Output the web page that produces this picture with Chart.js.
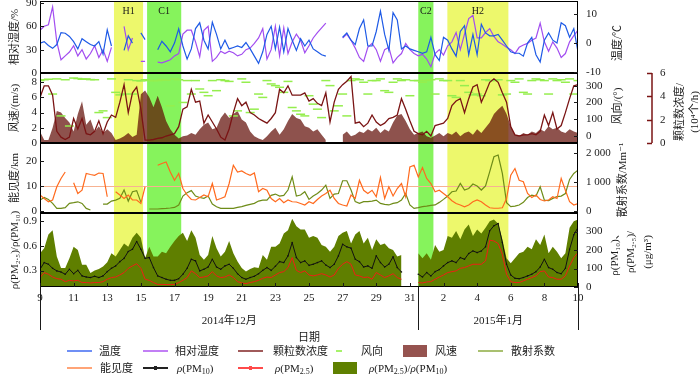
<!DOCTYPE html>
<html>
<head>
<meta charset="utf-8">
<script src="https://cdn.jsdelivr.net/npm/chart.js@4.4.0/dist/chart.umd.min.js"></script>
<style>
body { margin: 0; background: #fff; }
#wrap { position: relative; width: 700px; height: 374px; overflow: hidden; font-family: 'Liberation Serif', 'Noto Sans CJK SC', serif; color: #1a1a1a; }
#wrap canvas { position: absolute; left: 0; top: 0; }
.lg { position: absolute; font-size: 11px; line-height: 12px; white-space: nowrap; z-index: 5; }
.lg sub { font-size: 8px; vertical-align: -2px; line-height: 0; }
.sw { position: absolute; z-index: 5; }
</style>
</head>
<body>
<div id="wrap">
  <canvas id="c1" width="700" height="374"></canvas>
  <canvas id="c2" width="700" height="374"></canvas>
  <canvas id="c3" width="700" height="374"></canvas>
  <canvas id="c4" width="700" height="374"></canvas>
</div>
<script>
// 6-hourly readings, 9 Dec 2014 00:00 .. 10 Jan 2015 00:00
var temperature = [0, 0.5, -0.8, -1.8, -0.5, 3.6, 3.4, 2.3,
  0.5, -2, 1.5, 0.5, -0.5, -1, 0.5, -3.8,
  4.6, -1, null, null, -2.5, 2.5, 0, null,
  3.5, 1.2, null, null, -2.3, 0.6, -1, -3,
  0, 4.9, -1, -5.5, -2, 5, 7, 1,
  -2, 7.2, 3, -2, 1, -2, -1.5, -1,
  -1.5, 0.2, -2, -4.5, -7, -3, 3, 5.8,
  -2, 5.5, -3, 5, 1, -2.5, 1.5, -1,
  1, -2, -3, -4, -4.5, null, null, null,
  2, 3.5, 1, -0.5, 5, 8, -1, -1,
  4, 11, 3, -2.5, 10.5, 8, -2, -1,
  -2, -2.5, -3, -3.5, -3, 2, -4, -6,
  2, 1, -2, -4.5, 4, 6, -4, 3,
  -4, 6.5, 3.5, 2.5, 2.5, 3, 1, -1,
  -3, -3.5, -3.5, -4.5, 0, 2, -4, -6.5,
  1, 3.5, 1, 0, 7, 6, 2, 5,
  -3];
var humidity = [55, 60, 62, 85, 40, 17, 22, 27,
  35, 22, 30, 18, 25, 35, 20, 30,
  15, 33, null, null, 60, 30, 45, null,
  15, 15, null, null, 14, 13, 15, 17,
  22, 25, 50, 55, 55, 40, 21, 55,
  60, 15, 20, 28, 25, 28, 26, 22,
  24, 30, 32, 38, 45, 57, 18, 30,
  60, 22, 58, 25, 40, 50, 42, 26,
  35, 45, 52, 58, 64, null, null, null,
  45, 50, 42, 32, 20, 15, 33, 38,
  30, 15, 30, 33, 13, 20, 25, 38,
  30, 25, 22, 24, 18, 8, 25, 30,
  23, 35, 40, 52, 30, 50, 70, 74,
  45, 45, 52, 57, 47, 40, 37, 33,
  30, 25, 33, 36, 38, 42, 45, 64,
  40, 28, 40, 32, 20, 25, 40, 48,
  55];
var windSpeed = [1.5, 0.4, 0.4, 2, 4.2, 4, 3.3, 2.7,
  1.5, 3.8, 5.5, 2.4, 3.1, 1.5, 2.2, 1.3,
  1.8, 1.3, 0.4, 0.6, 0.9, 1.3, 0.8, 1.1,
  6.4, 6.9, 6, 4.7, 6.2, 4.7, 2.9, 1.8,
  1.1, 0.6, 0.9, 1, 1.3, 1.1, 1.8, 2.4,
  2.7, 1.8, 2, 3.3, 4, 3.3, 3.8, 4.2,
  3.1, 2.7, 1.5, 0.9, 0.6, 0.4, 0.9, 1.5,
  2, 1.1, 1.8, 2.9, 3.8, 3.3, 3.1, 2.2,
  2, 1.5, 1.8, 1.1, 0.4, null, null, null,
  1.1, 1.5, 0.9, 1.1, 1.5, 1.3, 1.8, 1.5,
  2, 1.3, 1.8, 1.5, 2.7, 3.6, 3.8, 2.9,
  1.8, 1.1, 1.3, 1.5, 0.9, 0.7, 1, 1.3,
  0.9, 1.3, 1.1, 1.5, 0.9, 1.3, 1.5, 1.1,
  1.8, 1.3, 2, 2.7, 3.8, 4.4, 4.9, 3.8,
  2.2, 1.1, 0.9, 1.3, 1.1, 1.5, 1.3, 1.8,
  1.5, 2.2, 1.8, 2, 1.5, 1.3, 1.8, 1.5,
  1.3];
var particleConc = [3.9, 4.9, 4.9, 4.1, 1, 0.5, 0.3, 0.5,
  2.1, 1.2, 2.1, 0.8, 0.7, 1, 1.9, 0.8,
  1.8, 2.4, 2.2, 3.5, 5, 2.6, 4.3, 4.8,
  2.9, 0.25, 0.25, 0.3, 0.4, 0.45, 0.6, 0.7,
  0.8, 1.4, 2.9, 3.1, 4.6, 3.5, 3.6, 1.7,
  2.4, 1.8, 1.2, 0.5, 0.25, 1.2, 2.6, 3.8,
  3.2, 3.5, 2.6, 2.4, 2.1, 1.9, 1.7, 2.1,
  2.6, 4.6, 4.3, 4.9, 4.1, 4.1, 4.1, 4.3,
  3.6, 3.8, 3.4, 3.2, 4.3, 1.8, 3.5, 4.6,
  5, 5.3, 5.7, 1.7, 1.8, 1.4, 1.7, 2.4,
  1.8, 1.5, 1.7, 2.1, 2.2, 2.4, 3.8, 2.9,
  1.9, 1, 0.8, 0.7, 1, 0.6, 1.5, 1.6,
  1.7, 2.1, 3.2, 3.6, 3.8, 2.6, 3.8, 4.8,
  5, 3.5, 4.3, 5.2, 5.5, 5.2, 4.3, 3.5,
  1.4, 0.7, 0.6, 0.7, 0.7, 0.8, 0.7, 1,
  2.4, 1.5, 2.6, 1.2, 1.5, 2.6, 3.8, 4.9,
  5];
var windDir = [330, 335, 338, 250, 340, 120, 335, 60,
  345, 342, 338, 340, 336, 335, 140, 150,
  110, 340, 260, 245, 250, 335, 250, 330,
  328, 335, 330, 330, 330, 336, 332, 180,
  340, 335, 200, 330, 250, 330, 280, 260,
  240, 330, 270, 335, 330, 325, 120, 150,
  340, 320, 140, 160, 250, 230, 330, 310,
  300, 290, 260, 325, 170, 150, 130, 120,
  240, 190, 160, 110, 330, 300, 150, 180,
  250, 120, 330, 340, 335, 320, 250, 330,
  330, 340, 270, 260, 320, 340, 330, 335,
  240, 330, 330, 320, 330, 335, 250, 340,
  330, 330, 240, 230, 330, 300, 260, 245,
  250, 240, 335, 330, 330, 335, 245, 250,
  330, 320, 340, 260, 250, 330, 340, 335,
  330, 250, 340, 330, 335, 320, 340, 250,
  330];
var visibility = [6.4, 5, 3.7, 4.4, 9.7, 13, 15.6, null,
  11.3, 7, 8.3, 15, 14.6, 14.3, 15.2, 15,
  5.7, null, 7.7, 6.4, 5, 6.4, 4.4, 4.4,
  3, 9.7, null, null, 18.3, 19, 19.6, 15.6,
  12.3, 15, 9, 6.4, 4.6, 4.4, 5.4, 6.4,
  5.7, 11, 4.4, 5, 5.7, 11, 18.3, 15.6,
  16, 15, 14.3, 15.2, 7.7, 9, 8.3, 5,
  3.7, 5, 3.3, 4.4, 3.7, 3.6, 3, 2.4,
  3.7, 3, 4.6, 6, 7, 8.3, 5, 3,
  2.4, 2, 6.4, 5, 12.3, 8.3, 7, 8.3,
  5.7, 13.4, 5, 9.7, 6, 9, 11, 5.7,
  17.6, 18.3, 13.6, 17.4, 13, 11, 7.7, 8.3,
  7, 5.7, 4.1, 3, 2.4, 1.7, 2.4, 3.7,
  4.4, 3.7, 2.4, 1.3, 1.1, 1.1, 1.3, 5,
  14.3, 17, 12.3, 11.7, 7, 5.4, 6.4, 4.6,
  4, 4.4, 5.7, 5, 13, 8.3, 3.7, 2.4,
  3];
var scattering = [370, 460, 390, 255, 80, 80, 105, 255,
  280, 310, 255, 80, 25, null, null, 230,
  230, 335, 370, 430, 720, 335, 660, 700,
  300, null, 60, 60, 60, 70, 80, 95,
  115, 200, 510, 625, 700, 510, 460, 430,
  510, 230, 140, 80, 80, 80, 80, 115,
  140, 185, 220, 255, 335, 370, 370, 535,
  580, 510, 535, 720, 1180, 510, 545, 660,
  395, 510, 600, 720, 890, 430, 580, 600,
  1045, 1045, 720, 315, 255, 315, 315, 335,
  370, 255, 220, 200, 255, 280, 370, 600,
  200, 80, 105, 140, 160, 185, 200, 290,
  395, 510, 660, 685, 950, 720, 775, 930,
  860, 720, 860, 1360, 1880, 1940, 1300, 280,
  140, 160, 200, 290, 460, 545, 510, 835,
  370, 350, 430, 490, 510, 600, 1090, 1300,
  1415];
var pmRatio = [0.51, 0.57, 0.74, 0.79, 0.47, 0.33, 0.33, 0.45,
  0.59, 0.55, 0.37, 0.37, 0.27, 0.30, 0.32, 0.35,
  0.40, 0.51, 0.47, 0.55, 0.63, 0.59, 0.70, 0.76,
  0.70, 0.45, 0.59, 0.47, 0.47, 0.53, 0.51, 0.59,
  0.66, 0.72, 0.76, 0.66, 0.79, 0.70, 0.49, 0.43,
  0.49, 0.72, 0.57, 0.47, 0.53, 0.66, 0.51, 0.41,
  0.33, 0.29, 0.32, 0.34, 0.33, 0.49, 0.43, 0.59,
  0.59, 0.63, 0.75, 0.79, 0.93, 0.84, 0.80, 0.80,
  0.70, 0.72, 0.70, 0.61, 0.59, 0.53, 0.59, 0.72,
  0.76, 0.78, 0.63, 0.74, 0.78, 0.63, 0.70, 0.55,
  0.68, 0.61, 0.63, 0.57, 0.55, 0.47, 0.49, null,
  null, null, 0.51, 0.45, 0.51, 0.43, 0.61, 0.53,
  0.55, 0.72, 0.70, 0.78, 0.68, 0.80, 0.86, 0.72,
  0.80, 0.75, 0.82, 0.90, 0.92, 0.87, 0.68, 0.45,
  0.39, 0.45, 0.51, 0.53, 0.59, 0.56, 0.68, 0.61,
  0.74, 0.51, 0.59, 0.53, 0.45, 0.51, 0.82, 0.90,
  0.92];
var pm10 = [96, 132, 123, 101, 87, 81, 69, 96,
  72, 90, 60, 54, 51, 58, 51, 60,
  83, 101, 114, 137, 155, 192, 204, 246,
  204, 155, 159, 105, 60, 51, 42, 36,
  36, 45, 69, 101, 150, 141, 87, 96,
  108, 150, 108, 96, 114, 123, 101, 72,
  51, 42, 51, 58, 72, 90, 105, 90,
  112, 137, 132, 168, 240, 159, 132, 141,
  117, 123, 132, 141, 119, 105, 123, 168,
  231, 217, 210, 150, 137, 108, 114, 101,
  168, 132, 108, 123, 163, 105, 81, null,
  null, null, 69, 54, 78, 60, 83, 94,
  114, 132, 141, 132, 159, 150, 181, 195,
  186, 195, 217, 304, 331, 343, 240, 123,
  65, 47, 45, 51, 60, 69, 83, 108,
  150, 105, 96, 78, 72, 101, 204, 282,
  322];
var pm25 = [51, 78, 69, 54, 45, 42, 29, 36,
  33, 36, 24, 24, 22, 24, 24, 29,
  42, 51, 54, 65, 78, 101, 114, 126,
  101, 42, 36, 24, 14, 14, 13, 13,
  14, 24, 36, 51, 87, 72, 51, 54,
  60, 83, 60, 51, 54, 65, 51, 29,
  22, 18, 24, 29, 36, 47, 54, 51,
  65, 78, 83, 105, 159, 90, 78, 87,
  65, 60, 65, 72, 65, 54, 65, 101,
  123, 137, 123, 65, 60, 51, 54, 42,
  78, 65, 51, 60, 72, 51, 42, null,
  null, null, 24, 22, 27, 29, 42, 54,
  65, 78, 83, 87, 101, 105, 114, 123,
  123, 123, 141, 253, 249, 235, 177, 69,
  29, 24, 24, 33, 42, 51, 60, 83,
  87, 54, 51, 42, 42, 60, 114, 159,
  186];

var dateTicks = [0, 2, 4, 6, 8, 10, 12, 14, 16, 18, 20, 22, 24, 26, 28, 30, 32];
var dateLabels = ['9', '11', '13', '15', '17', '19', '21', '23', '25', '27', '29', '31', '2', '4', '6', '8', '10'];
var months = [['2014年12月', 0, 22.5], ['2015年1月', 22.5, 32]];
// episodes: name, start day, end day, kind (H = haze, C = clean)
var episodes = [['H1', 4.4, 6.13, 'H'], ['C1', 6.37, 8.4, 'C'], ['C2', 22.5, 23.4, 'C'], ['H2', 24.23, 27.86, 'H']];
var visRef = 10;

var times = temperature.map(function (v, i) { return i * 0.25; });

var FONT = "'Liberation Serif', 'Noto Sans CJK SC', 'DejaVu Serif', serif";
var INK = '#1a1a1a';
var PNC_COLOR = '#7a1414';
var tickFont = { family: FONT, size: 11 };

function fixTicks(values) {
  return function (s) { s.ticks = values.map(function (v) { return { value: v }; }); };
}

function yAxis(pos, min, max, ticks, width, extra) {
  var ax = {
    position: pos, min: min, max: max,
    afterBuildTicks: fixTicks(ticks),
    afterFit: function (s) { s.width = width; s.paddingTop = 0; s.paddingBottom = 0; },
    grid: { display: false, drawTicks: false },
    border: { display: false },
    ticks: { font: tickFont, color: INK, padding: pos === 'left' ? 3 : 8 }
  };
  if (extra && extra.title) {
    ax.title = { display: true, text: extra.title, font: { family: FONT, size: 11 }, color: INK, padding: { top: 9, bottom: 0 } };
  }
  if (extra && extra.callback) ax.ticks.callback = extra.callback;
  if (extra && extra.weight !== undefined) ax.weight = extra.weight;
  return ax;
}

var hiddenX = { type: 'linear', min: 0, max: 32, display: false };

var bands = {
  id: 'bands',
  beforeDatasetsDraw: function (chart) {
    var ctx = chart.ctx, a = chart.chartArea, x = chart.scales.x;
    ctx.save();
    episodes.forEach(function (e) {
      ctx.fillStyle = e[3] === 'H' ? '#EDF86C' : '#86F35C';
      var x0 = x.getPixelForValue(e[1]), x1 = x.getPixelForValue(e[2]);
      ctx.fillRect(x0, a.top, x1 - x0, a.bottom - a.top);
    });
    ctx.restore();
  }
};

var frame = {
  id: 'frame',
  afterDraw: function (chart) {
    var ctx = chart.ctx, a = chart.chartArea;
    ctx.save();
    ctx.strokeStyle = '#000';
    ctx.lineWidth = 1;
    ctx.strokeRect(Math.round(a.left) + 0.5, Math.round(a.top) + 0.5,
      Math.round(a.right - a.left) - 1, Math.round(a.bottom - a.top) - 1);
    ctx.restore();
  }
};

var tickMarks = {
  id: 'tickMarks',
  afterDraw: function (chart) {
    var ctx = chart.ctx, a = chart.chartArea;
    ctx.save();
    ctx.lineWidth = 1;
    Object.keys(chart.scales).forEach(function (k) {
      var s = chart.scales[k];
      if (!s.options.display) return;
      ctx.strokeStyle = s.id === 'pnc' ? PNC_COLOR : INK;
      if (s.id === 'pnc') {
        ctx.lineWidth = 1.5;
        ctx.beginPath();
        ctx.moveTo(s.left, a.top);
        ctx.lineTo(s.left, a.bottom);
        ctx.stroke();
      }
      s.ticks.forEach(function (t) {
        var p = Math.round(s.getPixelForValue(t.value)) + 0.5;
        ctx.beginPath();
        if (s.axis === 'x') { ctx.moveTo(p, a.bottom); ctx.lineTo(p, a.bottom - 4); }
        else if (s.id === 'pnc') { ctx.moveTo(s.left, p); ctx.lineTo(s.left - 5, p); }
        else if (s.position === 'left') { ctx.moveTo(a.left, p); ctx.lineTo(a.left + 4, p); }
        else { ctx.moveTo(a.right, p); ctx.lineTo(a.right - 4, p); }
        ctx.stroke();
      });
    });
    ctx.restore();
  }
};

function rightTitles(list) {
  return {
    id: 'rightTitles',
    afterDraw: function (chart) {
      var ctx = chart.ctx;
      ctx.save();
      ctx.fillStyle = INK;
      ctx.font = '11px ' + FONT;
      ctx.textAlign = 'center';
      ctx.textBaseline = 'middle';
      list.forEach(function (t) {
        ctx.save();
        ctx.translate(t.x, t.y);
        ctx.rotate(-Math.PI / 2);
        t.lines.forEach(function (line, k) { ctx.fillText(line, 0, k * (t.lh || 15)); });
        ctx.restore();
      });
      ctx.restore();
    }
  };
}

var bandNames = {
  id: 'bandNames',
  afterDatasetsDraw: function (chart) {
    var ctx = chart.ctx, a = chart.chartArea, x = chart.scales.x;
    ctx.save();
    ctx.fillStyle = INK;
    ctx.font = '10px ' + FONT;
    ctx.textAlign = 'center';
    ctx.textBaseline = 'middle';
    episodes.forEach(function (e) {
      ctx.fillText(e[0], (x.getPixelForValue(e[1]) + x.getPixelForValue(e[2])) / 2, a.top + 10);
    });
    ctx.restore();
  }
};

var visLine = {
  id: 'visLine',
  beforeDatasetsDraw: function (chart) {
    var ctx = chart.ctx, a = chart.chartArea;
    var y = Math.round(chart.scales.vis.getPixelForValue(visRef)) + 0.5;
    ctx.save();
    ctx.strokeStyle = '#F7B291';
    ctx.lineWidth = 1;
    ctx.beginPath();
    ctx.moveTo(a.left, y);
    ctx.lineTo(a.right, y);
    ctx.stroke();
    ctx.restore();
  }
};

var dateAxis = {
  id: 'dateAxis',
  afterDraw: function (chart) {
    var ctx = chart.ctx, a = chart.chartArea, x = chart.scales.x;
    ctx.save();
    ctx.strokeStyle = INK;
    ctx.lineWidth = 1;
    var edges = [months[0][1], months[0][2], months[1][2]];
    edges.forEach(function (d) {
      var px = Math.round(x.getPixelForValue(d)) + 0.5;
      ctx.beginPath();
      ctx.moveTo(px, a.bottom);
      ctx.lineTo(px, a.bottom + 43);
      ctx.stroke();
    });
    ctx.fillStyle = INK;
    ctx.font = '11px ' + FONT;
    ctx.textAlign = 'center';
    ctx.textBaseline = 'middle';
    months.forEach(function (m) {
      ctx.fillText(m[0], (x.getPixelForValue(m[1]) + x.getPixelForValue(m[2])) / 2, a.bottom + 34);
    });
    ctx.fillText('日期', (a.left + a.right) / 2, a.bottom + 51);
    ctx.restore();
  }
};

function baseOptions(top, bottom, scales) {
  return {
    responsive: false,
    animation: false,
    devicePixelRatio: 1,
    layout: { autoPadding: false, padding: { top: top, bottom: bottom, left: 0, right: 0 } },
    plugins: { legend: { display: false }, tooltip: { enabled: false } },
    elements: { point: { radius: 0 }, line: { borderWidth: 1.2, tension: 0 } },
    scales: scales
  };
}

// panel 1: temperature and relative humidity
new Chart(document.getElementById('c1'), {
  type: 'line',
  data: {
    labels: times,
    datasets: [
      { data: temperature, borderColor: '#1E5AE6', yAxisID: 't' },
      { data: humidity, borderColor: '#A24DF0', yAxisID: 'rh' }
    ]
  },
  options: baseOptions(1, 374 - 73, {
    x: hiddenX,
    rh: yAxis('left', 0, 92.5, [0, 30, 60, 90], 40, { title: '相对湿度/%' }),
    t: yAxis('right', -10.3, 14.5, [-10, 0, 10], 122)
  }),
  plugins: [bands, bandNames, frame, tickMarks, rightTitles([{ x: 618, y: 43, lines: ['温度/℃'] }])]
});

// panel 2: wind speed, wind direction, particle number concentration
new Chart(document.getElementById('c2'), {
  type: 'line',
  data: {
    labels: times,
    datasets: [
      { data: particleConc, borderColor: PNC_COLOR, borderWidth: 1.3, yAxisID: 'pnc' },
      { data: windDir, showLine: false, pointStyle: 'line', pointRadius: 4.5, pointBorderWidth: 1.5,
        pointBorderColor: '#95EE4E', pointBackgroundColor: '#95EE4E', yAxisID: 'wd' },
      { data: windSpeed, borderWidth: 0, borderColor: 'rgba(0,0,0,0)', backgroundColor: 'rgba(94,8,2,0.7)', fill: 'start', yAxisID: 'ws' }
    ]
  },
  options: baseOptions(73, 374 - 143, {
    x: hiddenX,
    ws: yAxis('left', 0, 9.2, [0, 2, 4, 6, 8], 40, { title: '风速/(m/s)' }),
    wd: yAxis('right', -41, 375, [0, 100, 200, 300], 74, { weight: 0 }),
    pnc: yAxis('right', 0, 6, [0, 2, 4, 6], 48, { weight: 1 })
  }),
  plugins: [bands, frame, tickMarks, rightTitles([
    { x: 618, y: 106, lines: ['风向/(°)'] },
    { x: 680, y: 112, lines: ['颗粒数浓度/', '(10⁴个/h)'], lh: 15 }
  ])]
});

// panel 3: visibility and scattering coefficient
new Chart(document.getElementById('c3'), {
  type: 'line',
  data: {
    labels: times,
    datasets: [
      { data: visibility, borderColor: '#FF6A1E', yAxisID: 'vis' },
      { data: scattering, borderColor: '#6E8C18', yAxisID: 'sc' }
    ]
  },
  options: baseOptions(143, 374 - 213, {
    x: hiddenX,
    vis: yAxis('left', -0.8, 27.2, [0, 10, 20], 40, { title: '能见度/km' }),
    sc: yAxis('right', -80, 2360, [0, 1000, 2000], 122, {
      callback: function (v) { return v >= 1000 ? Math.floor(v / 1000) + ' 000' : String(v); }
    })
  }),
  plugins: [bands, visLine, frame, tickMarks, rightTitles([{ x: 623, y: 180, lines: ['散射系数/Mm⁻¹'] }])]
});

// panel 4: PM10, PM2.5 and their ratio
new Chart(document.getElementById('c4'), {
  type: 'line',
  data: {
    labels: times,
    datasets: [
      { data: pm25, borderColor: '#F01E14', borderWidth: 1, yAxisID: 'pm' },
      { data: pm10, borderColor: '#111', borderWidth: 1, pointRadius: 0.8, pointBackgroundColor: '#111', pointBorderWidth: 0, yAxisID: 'pm' },
      { data: pmRatio, borderWidth: 0, borderColor: 'rgba(0,0,0,0)', backgroundColor: '#5F7F00', fill: 'start', yAxisID: 'ratio' }
    ]
  },
  options: baseOptions(213, 374 - 287 - 16, {
    x: {
      type: 'linear', min: 0, max: 32, position: 'bottom',
      grid: { display: false, drawTicks: false },
      border: { display: false },
      afterBuildTicks: fixTicks(dateTicks),
      afterFit: function (s) { s.height = 16; s.paddingLeft = 0; s.paddingRight = 0; },
      ticks: { font: tickFont, color: INK, padding: 5, autoSkip: false, maxRotation: 0,
        callback: function (v, i) { return dateLabels[i]; } }
    },
    ratio: yAxis('left', 0.1, 1.0, [0.3, 0.6, 0.9], 40, {
      title: 'ρ(PM₂.₅)/ρ(PM₁₀)',
      callback: function (v) { return v.toFixed(1); }
    }),
    pm: yAxis('right', 0, 400, [0, 100, 200, 300], 122)
  }),
  plugins: [bands, frame, tickMarks, dateAxis, rightTitles([
    { x: 615, y: 252, lines: ['ρ(PM₁₀)、', 'ρ(PM₂.₅)/', '(μg/m³)'], lh: 16.5 }
  ])]
});

// legend
var legendRows = [351, 368];
var legendItems = [
  { row: 0, kind: 'line', color: '#6F8FF5', sx: 67, tx: 99, html: '温度' },
  { row: 0, kind: 'line', color: '#C27FF5', sx: 143, tx: 175, html: '相对湿度' },
  { row: 0, kind: 'line', color: '#A05A5A', sx: 238, tx: 273, html: '颗粒数浓度' },
  { row: 0, kind: 'dash', color: '#A6F26A', sx: 336, tx: 361, html: '风向' },
  { row: 0, kind: 'box', color: '#95534F', sx: 403, tx: 435, html: '风速' },
  { row: 0, kind: 'line', color: '#A9C070', sx: 478, tx: 511, html: '散射系数' },
  { row: 1, kind: 'line', color: '#FFA477', sx: 67, tx: 100, html: '能见度' },
  { row: 1, kind: 'mark', color: '#222', sx: 143, tx: 177, html: '<i>ρ</i>(PM<sub>10</sub>)' },
  { row: 1, kind: 'mark', color: '#FF4A4A', sx: 238, tx: 275, html: '<i>ρ</i>(PM<sub>2.5</sub>)' },
  { row: 1, kind: 'box', color: '#5F8000', sx: 333, tx: 369, html: '<i>ρ</i>(PM<sub>2.5</sub>)/<i>ρ</i>(PM<sub>10</sub>)' }
];
var wrap = document.getElementById('wrap');
legendItems.forEach(function (it) {
  var y = legendRows[it.row];
  var sw = document.createElement('div');
  sw.className = 'sw';
  sw.style.background = it.color;
  if (it.kind === 'box') {
    sw.style.left = it.sx + 'px'; sw.style.top = (y - 6) + 'px'; sw.style.width = '24px'; sw.style.height = '12px';
  } else if (it.kind === 'dash') {
    sw.style.left = it.sx + 'px'; sw.style.top = (y - 1) + 'px'; sw.style.width = '6px'; sw.style.height = '2px';
  } else {
    sw.style.left = it.sx + 'px'; sw.style.top = (y - 1) + 'px'; sw.style.width = '25px'; sw.style.height = '2px';
  }
  wrap.appendChild(sw);
  if (it.kind === 'mark') {
    var m = document.createElement('div');
    m.className = 'sw';
    m.style.background = it.color;
    m.style.left = (it.sx + 11) + 'px'; m.style.top = (y - 2) + 'px';
    m.style.width = '3px'; m.style.height = '4px';
    wrap.appendChild(m);
  }
  var t = document.createElement('div');
  t.className = 'lg';
  t.style.left = it.tx + 'px';
  t.style.top = (y - 6) + 'px';
  t.innerHTML = it.html;
  wrap.appendChild(t);
});
</script>
</body>
</html>
